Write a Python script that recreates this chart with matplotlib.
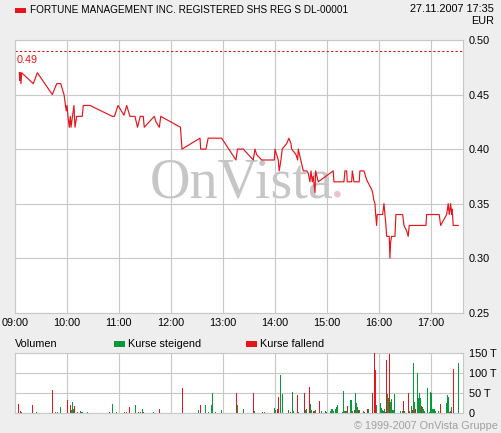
import matplotlib
matplotlib.use("Agg")
import matplotlib.pyplot as plt
from matplotlib.patches import Rectangle, Ellipse

# ---------------- data ----------------
title = "FORTUNE MANAGEMENT INC. REGISTERED SHS REG S DL-00001"
stamp = "27.11.2007 17:35"
currency = "EUR"
prev_close = 0.49

# minutes after 09:00 and price
price_min = [5.0, 5.4, 6.1, 6.9, 7.7, 21.1, 25.8, 43.1, 48.2, 52.8, 56.6, 59.2, 60.1, 61.2,
             62.7, 63.9, 64.7, 67.3, 68.1, 69.3, 71.3, 77.7, 78.9, 86.6, 112.4, 114.9, 119.0,
             125.9, 129.0, 132.8, 138.6, 141.5, 144.7, 148.2, 149.3, 160.9, 162.8, 166.7, 168.4,
             191.1, 192.9, 213.7, 214.5, 220.6, 223.1, 238.7, 255.2, 257.0, 263.7, 275.2, 277.2,
             279.1, 284.9, 299.5, 300.3, 302.2, 304.1, 305.2, 307.2, 308.7, 313.8, 316.4, 318.8,
             319.6, 324.5, 326.5, 327.2, 329.2, 333.0, 336.9, 338.7, 340.7, 341.9, 343.4, 344.5,
             346.5, 347.3, 350.3, 367.6, 368.4, 380.0, 381.1, 383.1, 383.8, 388.9, 389.6, 390.7,
             391.5, 397.6, 398.4, 403.1, 406.2, 408.0, 410.0, 412.0, 413.1, 414.6, 415.8, 416.6,
             417.7, 418.4, 424.7, 426.2, 427.3, 428.5, 429.3, 432.3, 433.1, 433.9, 435.1, 438.9,
             440.0, 447.8, 449.3, 452.4, 454.2, 455.4, 474.7, 475.5, 490.0, 491.7, 498.6, 500.4,
             501.6, 503.2, 504.3, 505.0, 506.2, 512.0]
price_val = [0.47, 0.463, 0.47, 0.46, 0.47, 0.46, 0.47, 0.45, 0.46, 0.46, 0.45, 0.435, 0.44, 0.43,
             0.42, 0.43, 0.42, 0.435, 0.44, 0.42, 0.43, 0.43, 0.44, 0.44, 0.43, 0.43, 0.44,
             0.431, 0.44, 0.43, 0.43, 0.42, 0.43, 0.43, 0.42, 0.43, 0.425, 0.42, 0.43,
             0.42, 0.40, 0.41, 0.40, 0.40, 0.41, 0.41, 0.39, 0.40, 0.40, 0.39, 0.40,
             0.395, 0.39, 0.39, 0.40, 0.395, 0.39, 0.38, 0.39, 0.40, 0.405, 0.41, 0.405,
             0.40, 0.395, 0.39, 0.40, 0.393, 0.38, 0.38, 0.378, 0.37, 0.38, 0.37, 0.375,
             0.36, 0.38, 0.37, 0.38, 0.37, 0.37, 0.38, 0.38, 0.37, 0.37, 0.38, 0.375,
             0.37, 0.37, 0.38, 0.38, 0.372, 0.369, 0.366, 0.363, 0.36, 0.353, 0.35, 0.34,
             0.33, 0.34, 0.34, 0.35, 0.34, 0.33, 0.32, 0.32, 0.30, 0.315, 0.32, 0.32,
             0.34, 0.34, 0.33, 0.325, 0.32, 0.33, 0.33, 0.34, 0.34, 0.33, 0.34, 0.35,
             0.34, 0.35, 0.34, 0.345, 0.33, 0.33]

# volume bars (rows of 10): minute after 09:00, volume in thousands, G = rising, R = falling
vol_min = [3.8, 6.1, 7.3, 20.0, 25.1, 43.1, 46.5, 48.9, 52.3, 60.4,
           63.9, 65.0, 66.2, 67.3, 68.5, 72.0, 75.4, 76.6, 77.7, 83.5,
           108.9, 112.4, 117.0, 126.2, 129.0, 132.0, 138.9, 142.4, 144.7, 147.0,
           148.2, 159.7, 166.7, 190.6, 191.7, 193.2, 211.7, 214.0, 219.8, 223.2,
           226.7, 227.9, 231.3, 238.3, 255.6, 256.7, 263.7, 275.2, 276.4, 285.6,
           287.9, 299.5, 300.6, 303.4, 304.1, 306.4, 308.7, 315.6, 317.9, 320.3,
           321.4, 326.0, 327.2, 334.1, 335.3, 336.9, 339.9, 341.0, 342.2, 344.5,
           345.7, 346.8, 351.4, 353.7, 358.4, 359.5, 364.1, 365.3, 366.4, 367.6,
           369.9, 371.1, 372.2, 378.0, 379.2, 380.3, 381.5, 382.6, 383.8, 387.2,
           388.4, 389.6, 391.9, 393.0, 394.2, 395.3, 396.5, 397.6, 402.3, 403.4,
           406.9, 408.0, 412.6, 415.0, 416.1, 417.3, 421.9, 423.0, 424.2, 425.4,
           426.5, 427.7, 428.8, 430.0, 431.1, 432.3, 433.4, 434.6, 435.7, 436.9,
           438.0, 445.0, 447.3, 448.5, 449.6, 454.2, 455.4, 457.7, 458.8, 460.0,
           461.2, 462.3, 464.6, 465.8, 467.0, 468.1, 469.2, 470.4, 471.6, 472.7,
           476.2, 478.5, 479.6, 480.8, 481.9, 483.1, 484.3, 485.4, 488.9, 491.2,
           498.1, 499.3, 500.4, 501.6, 502.7, 503.9, 506.2, 512.0]
vol_k = [23, 6, 3, 21, 3, 58, 3, 3, 16, 33,
         21, 8, 29, 12, 18, 3, 6, 4, 4, 3,
         3, 23, 3, 3, 3, 16, 21, 3, 3, 11,
         3, 3, 11, 36, 61, 63, 8, 21, 21, 3,
         21, 51, 3, 8, 51, 21, 11, 50, 6, 3,
         3, 13, 8, 11, 42, 96, 48, 8, 3, 53,
         6, 46, 3, 51, 8, 11, 66, 23, 8, 6,
         6, 8, 31, 6, 6, 3, 6, 11, 11, 6,
         11, 16, 21, 3, 56, 6, 6, 6, 18, 33,
         33, 6, 8, 51, 26, 16, 8, 8, 6, 3,
         11, 11, 51, 150, 108, 21, 26, 13, 8, 6,
         11, 3, 133, 48, 38, 148, 28, 36, 8, 8,
         48, 6, 6, 31, 6, 51, 6, 18, 8, 126,
         28, 11, 101, 38, 51, 38, 18, 16, 11, 6,
         63, 3, 53, 51, 11, 11, 11, 6, 6, 23,
         26, 46, 41, 3, 6, 16, 111, 126]
vol_dir = ("RRGRGRGGGR" "RGGGRGGGGG" "RGGRGRGRGG" "RGRRRRGRGG" "GGGGRGGRGR"
           "GGGRRGGGRG" "GRGRGGRGGR" "RGRGGGGGGG" "GGGGGGGGRG" "GGRGGGRGGG"
           "RGRRRGGGGG" "GRRGGRGGGG" "GGGRGRGGRG" "GRGGGGRGGG" "GGGGGGGGGR"
           "GGGGRGRG")

hour_labels = ["09:00", "10:00", "11:00", "12:00", "13:00", "14:00", "15:00", "16:00", "17:00"]
price_ticks = [0.25, 0.30, 0.35, 0.40, 0.45, 0.50]
vol_ticks = [0, 50, 100, 150]
vol_tick_labels = ["0", "50 T", "100 T", "150 T"]

# ---------------- style ----------------
BG = "#EEEEEE"
GRID = "#C8C8C8"
RED = "#E8141B"
GREEN = "#079A3A"
FONT = "Liberation Sans"
FS = 7.8

plt.rcParams["font.family"] = [FONT, "DejaVu Sans"]

fig = plt.figure(figsize=(5.01, 4.33), dpi=100, facecolor=BG)
W, H = 501.0, 433.0

def ax_rect(x0, y0, x1, y1):
    return [x0 / W, 1 - y1 / H, (x1 - x0) / W, (y1 - y0) / H]

def fx(px):
    return px / W

def fy(py):
    return 1 - py / H

XMAX = 517.5

# ---------- main price axes ----------
ax = fig.add_axes(ax_rect(15, 40, 463, 312.7))
ax.set_facecolor("white")
ax.set_xlim(0, XMAX)
ax.set_ylim(0.25, 0.50)
ax.set_xticks([60 * i for i in range(len(hour_labels))])
ax.set_xticklabels(hour_labels)
ax.set_yticks(price_ticks)
ax.set_yticklabels([f"{v:.2f}" for v in price_ticks])
ax.yaxis.tick_right()
ax.tick_params(axis="both", length=0, labelsize=FS, colors="black")
ax.tick_params(axis="y", pad=4)
ax.tick_params(axis="x", pad=4)
ax.grid(True, color=GRID, linewidth=0.8)
ax.set_axisbelow(True)
for s in ax.spines.values():
    s.set_color(GRID)
    s.set_linewidth(0.8)

# watermark (inside the axes, beneath grid and line)
ax.text(fx(150), fy(198), "OnVista", ha="left", va="baseline", transform=fig.transFigure,
        family=["Liberation Serif", "DejaVu Serif"], fontsize=40.5, color="#C6C6C6", zorder=0.4)
ax.add_patch(Ellipse((fx(337.4), fy(194.2)), 6.6 / W, 6.6 / H, transform=fig.transFigure,
                     facecolor="#EBC3C8", edgecolor="none", zorder=0.4))

ax.axhline(prev_close, color=RED, linestyle=(0, (2, 2)), linewidth=0.8, zorder=2)
ax.text(2, prev_close - 0.004, f"{prev_close:.2f}", color=RED, fontsize=FS, ha="left", va="top")
ax.plot(price_min, price_val, color=RED, linewidth=0.85, zorder=3)

# ---------- volume axes ----------
av = fig.add_axes(ax_rect(15, 353.3, 463, 413.3))
av.set_facecolor("white")
av.set_xlim(0, XMAX)
av.set_ylim(0, 150)
av.set_xticks([60 * i for i in range(len(hour_labels))])
av.set_xticklabels([])
av.set_yticks(vol_ticks)
av.set_yticklabels(vol_tick_labels)
av.yaxis.tick_right()
av.tick_params(axis="both", length=0, labelsize=FS, colors="black")
av.tick_params(axis="y", pad=4)
av.grid(True, color=GRID, linewidth=0.8)
av.set_axisbelow(True)
for s in av.spines.values():
    s.set_color(GRID)
    s.set_linewidth(0.8)
colors = [GREEN if d == "G" else RED for d in vol_dir]
av.bar(vol_min, [min(v, 150) for v in vol_k], width=0.95, color=colors, linewidth=0, zorder=3)

# ---------- header / legend texts ----------
fig.patches.append(Rectangle((fx(15), fy(12.7)), 11 / W, 4.6 / H, transform=fig.transFigure,
                             facecolor=RED, edgecolor="none"))
fig.text(fx(30), fy(10), title, fontsize=7.22, ha="left", va="center")
fig.text(fx(494), fy(9.5), stamp, fontsize=FS, ha="right", va="center")
fig.text(fx(494), fy(20.5), currency, fontsize=FS, ha="right", va="center")

fig.text(fx(15), fy(344), "Volumen", fontsize=FS, ha="left", va="center")
fig.patches.append(Rectangle((fx(114), fy(347)), 11 / W, 6 / H, transform=fig.transFigure,
                             facecolor=GREEN, edgecolor="none"))
fig.text(fx(128), fy(344), "Kurse steigend", fontsize=FS, ha="left", va="center")
fig.patches.append(Rectangle((fx(246), fy(347)), 11 / W, 6 / H, transform=fig.transFigure,
                             facecolor=RED, edgecolor="none"))
fig.text(fx(260), fy(344), "Kurse fallend", fontsize=FS, ha="left", va="center")

fig.text(fx(498), fy(426), "\u00a9 1999-2007 OnVista Gruppe", fontsize=FS, ha="right",
         va="center", color="#A0A0A0")

fig.savefig("out.png", dpi=100, facecolor=BG)
